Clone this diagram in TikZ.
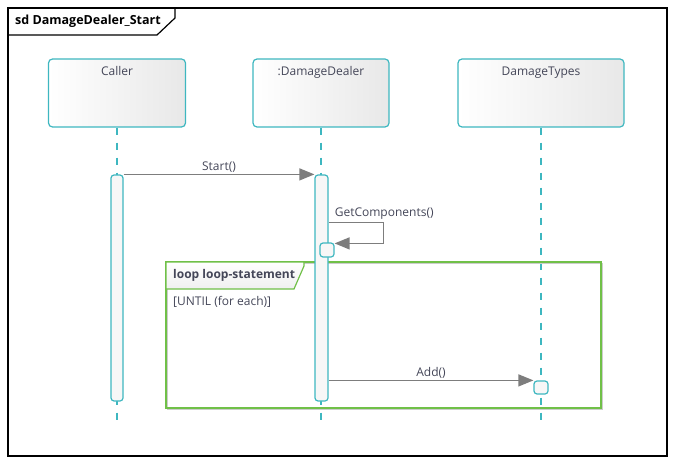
\documentclass[tikz,border=0pt]{standalone}
\usepackage{fontspec}
\setmainfont{Open Sans}
\usetikzlibrary{arrows.meta}
\definecolor{life}{RGB}{62,183,192}
\definecolor{loopgreen}{RGB}{112,192,72}
\definecolor{msg}{RGB}{125,125,125}
\definecolor{txt}{RGB}{68,70,88}
\begin{document}
\begin{tikzpicture}[x=1pt,y=-1pt,
  font=\fontsize{12}{14}\selectfont,
  header/.style={draw=life, line width=1.2pt, rounded corners=4pt,
    left color=white, right color=black!9, minimum height=68pt, inner sep=0pt},
  headtext/.style={text=txt, anchor=north, inner sep=0pt},
  act/.style={draw=life, line width=1.2pt, rounded corners=3pt, fill=black!3,
    inner sep=0pt},
  lifeline/.style={draw=life, line width=1.3pt, dash pattern=on 7pt off 8pt},
  msgline/.style={draw=msg, line width=1.3pt, -{Triangle[length=15pt,width=12pt]}},
  msgtext/.style={text=txt, inner sep=1pt},
  frametext/.style={text=txt, anchor=west, inner sep=0pt}]
\useasboundingbox (0,0) rectangle (674,465);

% diagram frame with its name tab
\draw[black, line width=1.2pt] (8,8) rectangle (667,456);
\draw[black, line width=1.2pt] (175,8) -- (175,18) -- (157,35) -- (8,35);
\node (title) [anchor=west, inner sep=0pt, font=\fontsize{12.5}{14}\selectfont\bfseries]
  at (15,21.5) {sd DamageDealer\_Start};

% lifeline heads
\node (caller) [header, minimum width=137pt] at (117,93) {};
\node (dealer) [header, minimum width=136pt] at (321,93) {};
\node (types)  [header, minimum width=166pt] at (541,93) {};
\node (callerT) [headtext] at ([yshift=-8pt]caller.north) {Caller};
\node (dealerT) [headtext] at ([yshift=-8pt]dealer.north) {:DamageDealer};
\node (typesT)  [headtext] at ([yshift=-8pt]types.north) {DamageTypes};

% dashed lifelines
\coordinate (callerEnd) at (117,422);
\coordinate (dealerEnd) at (321,422);
\coordinate (typesEnd)  at (541,422);
\draw[lifeline] (caller.south) -- (callerEnd);
\draw[lifeline] (dealer.south) -- (dealerEnd);
\draw[lifeline] (types.south) -- (typesEnd);

% combined fragment: loop
\draw[black!20, line width=1.6pt] (167.5,263.5) rectangle (602.5,409.5);
\draw[loopgreen, line width=1.8pt] (166,262) rectangle (601,408);
\draw[loopgreen, line width=1.2pt, top color=white, bottom color=black!6]
  (166,262) -- (304,262) -- (304,266) -- (294,289) -- (166,289) -- cycle;
\node (loopT) [frametext, font=\fontsize{12}{14}\selectfont\bfseries] at (173,275.5) {loop loop-statement};
\node (guard) [frametext] at (173,302) {[UNTIL (for each)]};

% activations
\node (actCaller) [act, minimum width=12pt, minimum height=226pt] at (117,288) {};
\node (actDealer) [act, minimum width=13pt, minimum height=226pt] at (321.5,288) {};
\node (actSelf)   [act, minimum width=14pt, minimum height=14pt] at (327,250) {};
\node (actTypes)  [act, minimum width=14pt, minimum height=13pt] at (541,387.5) {};

% messages
\draw[msgline] (actCaller.north east) -- (actDealer.north west)
  node (startT) [msgtext, midway, above=0.5pt] {Start()};
\coordinate (selfOut) at ([yshift=-48pt]actDealer.north east);
\draw[msgline] (selfOut) -- ++(55,0) |- ([yshift=-1pt]actSelf.north east);
\node (selfT) [msgtext, anchor=west] at ([xshift=5pt,yshift=9pt]selfOut) {GetComponents()};
\draw[msgline] (actTypes.north west -| actDealer.east) -- (actTypes.north west)
  node (addT) [msgtext, midway, above=0.5pt] {Add()};
\end{tikzpicture}
\end{document}
